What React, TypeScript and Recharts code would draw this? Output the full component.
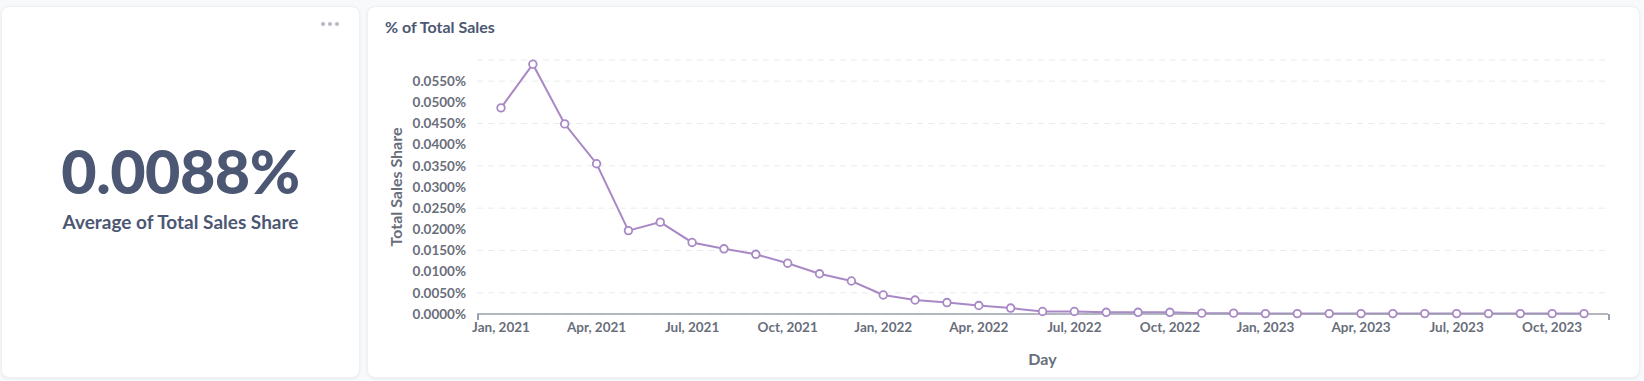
import React from 'react';
import { LineChart, Line, XAxis, YAxis, CartesianGrid, Label } from 'recharts';

const months = [
  'Jan, 2021', 'Feb, 2021', 'Mar, 2021', 'Apr, 2021', 'May, 2021', 'Jun, 2021',
  'Jul, 2021', 'Aug, 2021', 'Sep, 2021', 'Oct, 2021', 'Nov, 2021', 'Dec, 2021',
  'Jan, 2022', 'Feb, 2022', 'Mar, 2022', 'Apr, 2022', 'May, 2022', 'Jun, 2022',
  'Jul, 2022', 'Aug, 2022', 'Sep, 2022', 'Oct, 2022', 'Nov, 2022', 'Dec, 2022',
  'Jan, 2023', 'Feb, 2023', 'Mar, 2023', 'Apr, 2023', 'May, 2023', 'Jun, 2023',
  'Jul, 2023', 'Aug, 2023', 'Sep, 2023', 'Oct, 2023', 'Nov, 2023',
];

// total sales share, in percent
const shareValues = [
  0.0487, 0.0590, 0.0449, 0.0355, 0.0197, 0.0217,
  0.0169, 0.0154, 0.0141, 0.0120, 0.0095, 0.0078,
  0.0045, 0.0033, 0.0027, 0.0020, 0.0014, 0.0006,
  0.0006, 0.0004, 0.0004, 0.0004, 0.0002, 0.0002,
  0.0001, 0.0001, 0.0001, 0.0001, 0.0001, 0.0001,
  0.0001, 0.0001, 0.0001, 0.0001, 0.0001,
];

const yTicks = [0, 0.005, 0.01, 0.015, 0.02, 0.025, 0.03, 0.035, 0.04, 0.045, 0.05, 0.055];

const averageText = '0.0088%';

const data = months.map((m, i) => ({ month: m, share: shareValues[i] }));

const textDark = '#4c5773';
const textMid = '#696e7b';
const purple = '#a989c5';

export default function App() {
  return (
    <div
      style={{
        position: 'fixed',
        left: 0,
        top: 0,
        width: 1644,
        height: 381,
        background: '#f8f9fa',
        fontFamily: 'Lato, sans-serif',
        overflow: 'hidden',
      }}
    >
      {/* scalar card */}
      <div
        style={{
          position: 'absolute',
          left: 1,
          top: 6,
          width: 359,
          height: 372,
          background: '#fff',
          borderRadius: 8,
          boxShadow: '0 1px 3px rgba(0,0,0,0.06)',
          border: '1px solid #eef0f2',
          boxSizing: 'border-box',
        }}
      >
        <div style={{ position: 'absolute', right: 20, top: 15, display: 'flex', gap: 3 }}>
          {[0, 1, 2].map((i) => (
            <div key={i} style={{ width: 4, height: 4, borderRadius: 2, background: '#b4b9c3' }} />
          ))}
        </div>
        <div
          style={{
            position: 'absolute',
            left: 0,
            right: 0,
            top: 128,
            textAlign: 'center',
            color: textDark,
            fontWeight: 900,
            fontSize: 61,
            lineHeight: '72px',
            letterSpacing: -0.5,
          }}
        >
          {averageText}
        </div>
        <div
          style={{
            position: 'absolute',
            left: 0,
            right: 0,
            top: 203,
            textAlign: 'center',
            color: textDark,
            fontWeight: 700,
            fontSize: 19,
            lineHeight: '24px',
          }}
        >
          Average of Total Sales Share
        </div>
      </div>

      {/* line chart card */}
      <div
        style={{
          position: 'absolute',
          left: 367,
          top: 6,
          width: 1273,
          height: 372,
          background: '#fff',
          borderRadius: 8,
          boxShadow: '0 1px 3px rgba(0,0,0,0.06)',
          border: '1px solid #eef0f2',
          boxSizing: 'border-box',
        }}
      >
        <div
          style={{
            position: 'absolute',
            left: 17,
            top: 10,
            color: textDark,
            fontWeight: 700,
            fontSize: 16,
            lineHeight: '20px',
          }}
        >
          % of Total Sales
        </div>
        <div style={{ position: 'absolute', left: -1, top: -1 }}>
          <LineChart
            width={1273}
            height={372}
            data={data}
            margin={{ top: 54, right: 32, left: 0, bottom: 0 }}
          >
            <CartesianGrid vertical={false} stroke="#e9ebee" strokeDasharray="6 5" />
            <XAxis
              dataKey="month"
              height={64}
              interval={2}
              padding={{ left: 24, right: 24 }}
              tickLine={false}
              axisLine={{ stroke: '#9aa0ad', strokeWidth: 1.5 }}
              tick={{ fill: textMid, fontSize: 13.5, fontWeight: 700 }}
            >
              <Label
                value="Day"
                position="insideBottom"
                offset={13}
                style={{ fill: textMid, fontSize: 16, fontWeight: 700 }}
              />
            </XAxis>
            <YAxis
              width={110}
              domain={[0, 0.06]}
              ticks={yTicks}
              axisLine={false}
              tickLine={false}
              tickMargin={5}
              tickFormatter={(v: number) => `${v.toFixed(4)}%`}
              tick={{ fill: textMid, fontSize: 13.5, fontWeight: 700 }}
            >
              <Label
                value="Total Sales Share"
                angle={-90}
                position="center"
                dx={-26}
                style={{ fill: textMid, fontSize: 16, fontWeight: 700, textAnchor: 'middle' }}
              />
            </YAxis>
            <Line
              type="linear"
              dataKey="share"
              stroke={purple}
              strokeWidth={2}
              dot={{ r: 3.8, fill: '#fff', stroke: purple, strokeWidth: 1.8 }}
              isAnimationActive={false}
            />
          </LineChart>
        </div>
        {/* small end ticks of the x axis */}
        <div style={{ position: 'absolute', left: 109, top: 307, width: 1.5, height: 6, background: '#9aa0ad' }} />
        <div style={{ position: 'absolute', left: 1240, top: 307, width: 1.5, height: 6, background: '#9aa0ad' }} />
      </div>
    </div>
  );
}
